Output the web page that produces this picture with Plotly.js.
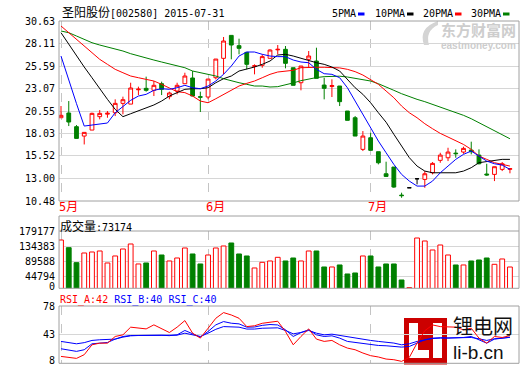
<!DOCTYPE html>
<html><head><meta charset="utf-8">
<script src="https://cdn.plot.ly/plotly-3.0.1.min.js"></script>
<style>html,body{margin:0;padding:0;background:#fff}#chart{width:520px;height:365px}</style>
</head><body><div id="chart"></div>
<script>
// ---------------- data ----------------
const stockName = '圣阳股份';
const stockCode = '002580';
const chartDate = '2015-07-31';
const monthLabels = ['5月', '6月', '7月'];
const monthStartIdx = [0, 19, 40];
const priceTicks = [10.48, 13.00, 15.52, 18.03, 20.55, 23.07, 25.59, 28.11, 30.63];
const volTicks = [44794, 89588, 134383, 179177];
const rsiTicks = [43, 78];

const openP = [19.80,20.33,18.80,17.75,18.42,19.92,20.20,20.36,21.41,21.33,
22.93,23.09,22.87,23.61,22.16,22.79,23.61,24.25,22.16,22.12,
24.28,26.45,29.02,27.87,27.12,25.55,25.67,26.45,27.40,27.46,
25.40,23.72,26.34,26.15,23.46,23.30,23.35,20.55,19.80,16.26,
17.56,16.00,13.53,14.28,11.14,11.96,12.97,12.90,13.64,15.03,
15.32,15.84,15.96,16.18,15.62,13.50,13.46,14.02,14.03];
const highP = [21.11,21.67,18.98,18.16,20.37,20.66,20.55,21.86,22.16,23.72,
23.28,24.40,23.91,23.84,22.72,23.72,24.84,25.03,22.72,24.13,
26.37,28.84,29.02,28.65,27.12,25.78,26.90,27.46,27.94,27.83,
25.40,25.59,27.27,27.64,24.28,24.10,23.35,20.55,19.99,18.31,
18.12,16.00,14.88,14.28,11.41,11.96,12.97,13.83,14.84,15.88,
16.44,16.26,16.56,17.12,16.26,14.65,14.32,14.84,14.15];
const lowP = [19.80,18.87,17.49,16.81,18.42,19.62,19.80,19.99,20.18,21.33,
22.34,22.72,22.23,22.34,21.86,22.42,23.61,22.23,20.44,21.86,
24.10,24.66,26.34,26.90,25.22,24.66,25.40,26.45,26.90,25.33,
23.43,22.87,25.40,24.21,21.86,22.12,21.11,19.51,17.75,16.07,
16.15,14.58,13.23,11.96,10.84,11.96,12.34,11.96,13.46,14.76,
14.95,15.32,15.77,15.70,14.58,13.30,12.71,13.83,13.58];
const closeP = [20.07,19.32,17.49,18.16,20.29,20.29,20.30,21.41,21.82,23.13,
23.00,22.87,23.43,22.98,22.57,23.43,24.47,22.23,22.10,24.13,
26.37,28.39,27.94,27.57,25.78,25.62,26.64,27.38,27.46,25.89,
23.43,25.59,26.71,24.21,23.09,23.40,21.60,19.51,17.75,17.75,
16.15,14.76,13.23,12.04,11.08,11.96,12.97,13.53,14.69,15.62,
15.96,15.78,16.37,16.00,14.65,13.40,14.32,14.65,14.10];

const ma5 = [26.71,23.91,21.38,18.87,18.98,19.06,19.21,20.36,21.11,21.75,
22.23,22.42,22.87,23.05,22.98,23.16,23.43,23.16,23.05,23.35,
23.91,24.66,25.59,26.71,27.16,27.16,26.90,26.71,26.64,26.64,
26.26,26.04,25.96,25.22,24.73,24.66,24.28,23.16,21.67,20.18,
18.68,17.19,15.88,14.58,13.46,12.71,12.15,12.15,12.71,13.64,
14.39,15.14,15.70,16.07,15.51,14.95,14.65,14.50,14.02];
const ma10 = [29.32,28.02,26.71,25.48,24.28,23.05,21.86,20.74,19.92,20.25,
20.55,20.85,21.23,21.67,22.23,22.61,22.98,23.05,23.05,23.16,
23.72,24.17,24.47,25.03,25.22,25.48,25.78,26.15,26.82,26.90,
26.71,26.45,26.26,25.96,25.78,25.48,25.03,24.10,23.16,22.42,
21.48,20.36,19.30,17.95,16.63,15.33,14.39,13.83,13.64,13.64,
13.64,13.64,13.83,14.21,14.77,14.88,15.03,15.14,15.14];
const ma20 = [30.07,29.32,28.58,27.83,27.08,26.34,25.78,25.22,24.84,24.47,
24.28,24.10,23.91,23.54,23.16,22.72,22.61,22.23,21.67,21.48,
21.93,22.42,22.87,23.35,23.65,23.91,24.28,24.66,24.92,25.03,
25.11,25.40,25.45,25.45,25.45,25.45,25.38,25.22,24.96,24.58,
24.10,23.54,22.79,22.04,21.11,20.36,19.80,19.13,18.57,18.05,
17.64,17.19,16.81,16.26,15.51,15.14,14.77,14.58,14.39];
const ma30 = [29.51,29.32,28.95,28.58,28.20,27.94,27.72,27.46,27.27,26.97,
26.71,26.52,26.26,26.04,25.85,25.59,25.40,25.03,24.84,24.66,
24.47,24.17,23.91,23.72,23.54,23.35,23.35,23.24,23.28,23.46,
23.70,23.95,24.15,24.30,24.40,24.45,24.45,24.36,24.21,24.02,
23.91,23.61,23.28,22.87,22.49,22.16,21.86,21.60,21.30,21.00,
20.63,20.36,20.07,19.69,19.24,18.87,18.42,17.94,17.45];

const volume = [152690,130130,85990,114440,117380,120320,85010,105610,126210,140920,
82070,85010,120320,108550,90900,99720,129150,111500,82070,108550,
129150,135040,143870,111500,105610,70300,86970,90900,101690,90900,
99720,90900,120320,120320,73240,73240,79130,52640,55580,105610,
105610,73240,82070,82070,34990,12420,158580,149750,123270,137980,
108550,79130,79130,90900,93840,99720,81090,96780,73174];

const rsiA = [16.8,15.6,14.4,18.9,30.9,32.9,32.9,41.0,43.0,52.3,
51.0,50.2,55.1,50.2,45.8,52.3,60.3,45.0,39.0,51.0,
63.1,70.0,67.1,63.1,53.0,54.0,57.0,58.3,59.5,47.0,
30.9,41.0,50.2,37.8,35.0,36.2,30.9,26.9,24.9,20.9,
17.7,16.1,13.6,12.8,10.8,15.6,33.0,48.0,55.0,53.0,
52.3,52.3,49.1,51.0,39.0,32.9,41.0,39.8,42.0];
const rsiB = [26.1,24.5,22.9,24.9,32.1,32.9,33.7,37.8,41.0,42.2,
42.5,42.5,43.0,42.5,42.0,43.0,48.3,44.2,40.2,47.1,
55.1,59.1,57.1,56.3,52.3,52.5,54.5,55.5,55.0,49.1,
41.0,45.8,49.1,43.0,41.0,41.8,39.0,35.0,33.8,32.1,
30.9,30.1,29.7,28.9,28.1,28.9,33.0,37.0,39.0,39.5,
39.0,39.0,39.8,41.0,37.0,32.9,37.8,39.0,40.0];
const rsiC = [35.0,34.0,32.1,33.5,36.2,37.0,37.2,37.8,40.2,41.8,
42.2,42.2,42.6,42.2,42.2,42.6,45.0,43.0,41.0,45.0,
49.7,53.0,53.0,52.3,50.0,50.0,51.0,51.5,51.5,48.3,
44.2,45.8,48.3,45.0,43.0,43.8,42.2,40.2,39.0,37.0,
36.2,35.0,34.2,33.0,30.9,32.1,35.0,37.0,38.5,39.0,
39.0,39.0,39.0,39.8,38.2,36.2,38.2,39.0,40.0];

// ---------------- layout helpers ----------------
const W = 520, H = 365, ML = 59, MR = 1, MT = 21, MB = 2;
const PW = W - ML - MR, PH = H - MT - MB;
const px = x => (x - ML) / PW;
const py = y => (H - MB - y) / PH;

const RED = '#ff0000', GREEN = '#008000', BLUE = '#0000ff', BLACK = '#000000';
const FRAME = '#a0a0a0', GRID = '#d6d6d6', DASH = '#c4c4c4';
const MONO = 'DejaVu Sans Mono, Noto Sans CJK SC, monospace';

const n = closeP.length;
const idx = Array.from({length: n}, (_, i) => i);
const pick = (arr, keep) => arr.filter((_, i) => keep[i]);
const isFlat = idx.map(i => closeP[i] === openP[i]);
const notFlat = isFlat.map(f => !f);
const up = idx.map(i => closeP[i] >= openP[i]);

const traces = [];
traces.push({
  type: 'candlestick', x: pick(idx, notFlat), open: pick(openP, notFlat), high: pick(highP, notFlat),
  low: pick(lowP, notFlat), close: pick(closeP, notFlat), xaxis: 'x', yaxis: 'y', whiskerwidth: 0,
  increasing: {line: {color: RED, width: 1}, fillcolor: '#ffffff'},
  decreasing: {line: {color: GREEN, width: 1}, fillcolor: GREEN},
  showlegend: false, hoverinfo: 'skip'
});
traces.push({
  type: 'candlestick', x: pick(idx, isFlat), open: pick(openP, isFlat), high: pick(highP, isFlat),
  low: pick(lowP, isFlat), close: pick(closeP, isFlat), xaxis: 'x', yaxis: 'y', whiskerwidth: 0,
  increasing: {line: {color: BLACK, width: 1}, fillcolor: BLACK},
  decreasing: {line: {color: BLACK, width: 1}, fillcolor: BLACK},
  showlegend: false, hoverinfo: 'skip'
});
[[ma30, GREEN], [ma20, RED], [ma10, BLACK], [ma5, BLUE]].forEach(([arr, c]) => {
  traces.push({type: 'scatter', mode: 'lines', x: idx, y: arr, xaxis: 'x', yaxis: 'y',
    line: {color: c, width: 1}, showlegend: false, hoverinfo: 'skip'});
});
traces.push({
  type: 'bar', x: idx, y: volume, xaxis: 'x2', yaxis: 'y2', width: 0.62,
  marker: {color: up.map(u => u ? '#ffffff' : GREEN), line: {color: up.map(u => u ? RED : GREEN), width: 1}},
  showlegend: false, hoverinfo: 'skip'
});
[[rsiC, BLUE], [rsiB, BLUE], [rsiA, RED]].forEach(([arr, c]) => {
  traces.push({type: 'scatter', mode: 'lines', x: idx, y: arr, xaxis: 'x3', yaxis: 'y3',
    line: {color: c, width: 1}, showlegend: false, hoverinfo: 'skip'});
});

const xCommon = {
  range: [-0.26, 59.17], tickvals: monthStartIdx, showticklabels: false, ticks: '',
  showgrid: true, gridcolor: DASH, griddash: 'dash', gridwidth: 1, zeroline: false, showline: false,
  fixedrange: true, rangeslider: {visible: false}
};
const yCommon = {
  showgrid: true, gridcolor: GRID, gridwidth: 1, zeroline: false, showline: false, ticks: '',
  tickfont: {family: MONO, size: 10, color: '#000'}, ticklabelstandoff: 3, fixedrange: true
};

const shapes = [];
const rectPx = (x0, y0, x1, y1, extra) => Object.assign({type: 'rect', xref: 'paper', yref: 'paper',
  x0: px(x0), x1: px(x1), y0: py(y1), y1: py(y0)}, extra);
// panel frames
shapes.push(rectPx(59, 21, 519, 201, {line: {color: FRAME, width: 1}}));
shapes.push(rectPx(59, 216, 519, 288.3, {line: {color: FRAME, width: 1}}));
shapes.push({type: 'line', xref: 'paper', yref: 'paper', x0: 0, x1: px(519), y0: py(231), y1: py(231), line: {color: FRAME, width: 1}});
shapes.push(rectPx(59, 306, 519, 363.3, {line: {color: FRAME, width: 1}}));
// legend colour chips
[[358, BLUE], [407, BLACK], [455, RED], [503, GREEN]].forEach(([x, c]) => {
  shapes.push(rectPx(x, 12.5, x + 6.5, 15.5, {fillcolor: c, line: {width: 0}}));
});
// li-b.cn logo
shapes.push(rectPx(404, 318, 447, 364.5, {fillcolor: '#cc0000', line: {width: 0}, layer: 'below'}));
shapes.push(rectPx(409, 323, 418, 358, {fillcolor: '#ffffff', line: {width: 0}, layer: 'below'}));
shapes.push(rectPx(409, 350, 429, 358, {fillcolor: '#ffffff', line: {width: 0}, layer: 'below'}));
shapes.push(rectPx(433, 323, 442, 358, {fillcolor: '#ffffff', line: {width: 0}, layer: 'below'}));
// eastmoney swoosh (watermark)
const P = (x, y) => px(x).toFixed(4) + ',' + py(y).toFixed(4);
shapes.push({type: 'path', xref: 'paper', yref: 'paper', layer: 'below',
  path: 'M' + P(438, 21) + ' Q' + P(418, 28) + ' ' + P(424, 45) + ' L' + P(429, 45) + ' Q' + P(425, 31) + ' ' + P(438, 25) + ' Z',
  fillcolor: '#d4d4d4', line: {width: 0}});

const ann = [];
const A = (x, y, text, o) => Object.assign({xref: 'paper', yref: 'paper', x: px(x), y: py(y), text: text,
  showarrow: false, xanchor: 'left', yanchor: 'middle', borderpad: 0,
  font: {family: MONO, size: 10, color: '#000'}}, o || {});
ann.push(A(61, 13.3, '<span style="font-size:12px">' + stockName + '</span>[' + stockCode + '] ' + chartDate));
[['5PMA', 331], ['10PMA', 374], ['20PMA', 422], ['30PMA', 470]].forEach(([t, x]) => ann.push(A(x, 13.5, t)));
ann.push(A(59, 226.5, '<span style="font-size:12px">成交量</span>:' + volume[n - 1]));
ann.push(A(59, 299.7, '<span style="color:' + RED + '">RSI_A:' + Math.round(rsiA[n - 1]) + '</span> ' +
  '<span style="color:' + BLUE + '">RSI_B:' + Math.round(rsiB[n - 1]) + ' RSI_C:' + Math.round(rsiC[n - 1]) + '</span>'));
monthLabels.forEach((t, k) => ann.push({xref: 'x', yref: 'paper', x: monthStartIdx[k], y: py(207.5), text: t,
  showarrow: false, xanchor: 'left', yanchor: 'middle', xshift: -3.5, borderpad: 0,
  font: {family: MONO, size: 12, color: RED}}));
ann.push(A(56, 286.7, '0', {xanchor: 'right'}));
ann.push(A(56, 360.7, '8', {xanchor: 'right'}));
// watermarks (two-line blocks, one text each)
ann.push(A(440, 35, '<span style="font-family:Noto Sans CJK SC;font-size:15px"><b>东方财富网</b></span><br><b>eastmoney.com</b>',
  {align: 'left', font: {family: 'Liberation Sans', size: 10, color: '#cdcdcd'}}));
ann.push(A(452, 337, '<span style="font-family:Noto Sans CJK SC;font-size:20px">锂电网</span><br>li-b.cn',
  {align: 'left', font: {family: 'Liberation Sans', size: 19, color: '#111'}}));

const layout = {
  width: W, height: H, margin: {l: ML, r: MR, t: MT, b: MB, pad: 0},
  paper_bgcolor: '#ffffff', plot_bgcolor: 'rgba(0,0,0,0)', showlegend: false,
  font: {family: MONO, size: 10, color: '#000'},
  xaxis: Object.assign({}, xCommon, {anchor: 'y', domain: [0, 1]}),
  xaxis2: Object.assign({}, xCommon, {anchor: 'y2', matches: 'x', domain: [0, 1]}),
  xaxis3: Object.assign({}, xCommon, {anchor: 'y3', matches: 'x', domain: [0, 1]}),
  yaxis: Object.assign({}, yCommon, {domain: [py(201), 1], range: [10.48, 30.63],
    tickvals: priceTicks, ticktext: priceTicks.map(v => v.toFixed(2))}),
  yaxis2: Object.assign({}, yCommon, {domain: [py(288.3), py(231)], range: [10460, 179177],
    tickvals: volTicks, ticktext: volTicks.map(String)}),
  yaxis3: Object.assign({}, yCommon, {domain: [0, py(306)], range: [8.8, 78],
    tickvals: rsiTicks, ticktext: rsiTicks.map(String)}),
  shapes: shapes, annotations: ann, bargap: 0.3
};
Plotly.newPlot('chart', traces, layout, {staticPlot: true, displayModeBar: false});
</script>
</body></html>
